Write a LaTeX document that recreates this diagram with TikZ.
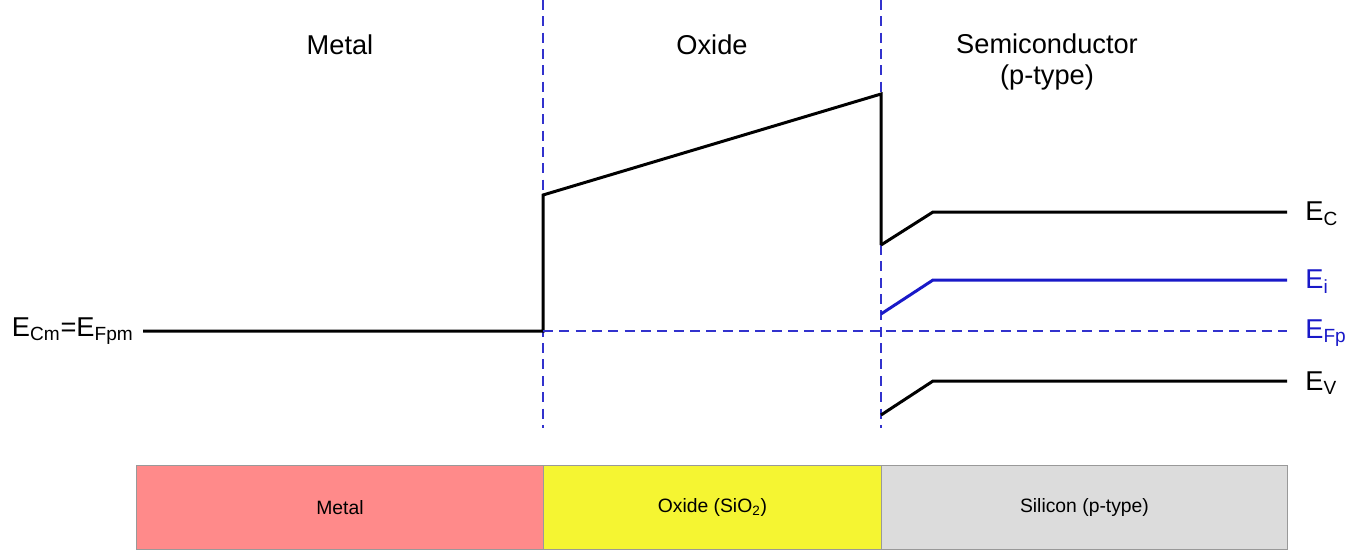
\documentclass[tikz,border=0pt]{standalone}
\usepackage{fontspec}
\setmainfont{Liberation Sans}
\usepackage{xcolor}
\usetikzlibrary{positioning}

\definecolor{bandblue}{RGB}{25,25,200}
\definecolor{dashblue}{RGB}{50,50,205}
\definecolor{metalfill}{RGB}{255,138,138}
\definecolor{oxidefill}{RGB}{245,245,50}
\definecolor{sifill}{RGB}{220,220,220}

\begin{document}
\begin{tikzpicture}[
      x=0.02cm, y=-0.02cm,
      font=\fontsize{15.5}{18}\selectfont,
      band/.style={line width=1.7pt, line join=miter},
      iband/.style={line width=1.7pt, draw=bandblue},
      bdry/.style={dashblue, line width=0.9pt, dash pattern=on 5.7pt off 3.6pt},
      lbl/.style={anchor=west, inner sep=0pt},
      region/.style={draw=black!40, line width=0.6pt, minimum height=1.68cm, inner sep=0pt, font=\fontsize{11}{13}\selectfont},
    ]
    \useasboundingbox (0,0) rectangle (1351,549);

    % interfaces
    \coordinate (mo) at (543,331);
    \coordinate (os) at (881,331);
    \draw[bdry] (543,0) -- (543,428);
    \draw[bdry] (881,0) -- (881,428);

    % titles
    \node (tmetal) at (340,45) {Metal};
    \node (toxide) at (712,45) {Oxide};
    \node[align=center] (tsemi) at (1047,62) {Semiconductor\\(p-type)};

    % metal Fermi level and oxide conduction band
    \node[anchor=east, inner sep=0pt] (efm) at (134,331) {E\textsubscript{Cm}=E\textsubscript{Fpm}};
    \coordinate (mleft) at (143,331);
    \coordinate (oxlow) at (543,195);
    \coordinate (oxhigh) at (881,94);
    \draw[band] (mleft) -- (mo) -- (oxlow) -- (oxhigh) -- (881,245);

    % semiconductor bands
    \node[lbl] (ec) at (1305,214) {E\textsubscript{C}};
    \node[lbl, text=bandblue] (ei) at (1305,282) {E\textsubscript{i}};
    \node[lbl, text=bandblue] (efp) at (1305,333) {E\textsubscript{Fp}};
    \node[lbl] (ev) at (1305,383) {E\textsubscript{V}};

    \draw[band] (881,245) -- (933,212) -- (1287,212);
    \draw[iband] (881,314) -- (933,280) -- (1287,280);
    \draw[bdry] (mo) -- (1287,331);
    \draw[band] (881,415) -- (933,381) -- (1287,381);

    % layer stack
    \node[region, fill=metalfill, minimum width=8.14cm, anchor=north west] (lmetal) at (136,465) {Metal};
    \node[region, fill=oxidefill, minimum width=6.76cm, anchor=north west] (loxide) at (543,465) {Oxide (SiO\textsubscript{2})};
    \node[region, fill=sifill, minimum width=8.12cm, anchor=north west] (lsi) at (881,465) {Silicon (p-type)};
  \end{tikzpicture}
\end{document}
